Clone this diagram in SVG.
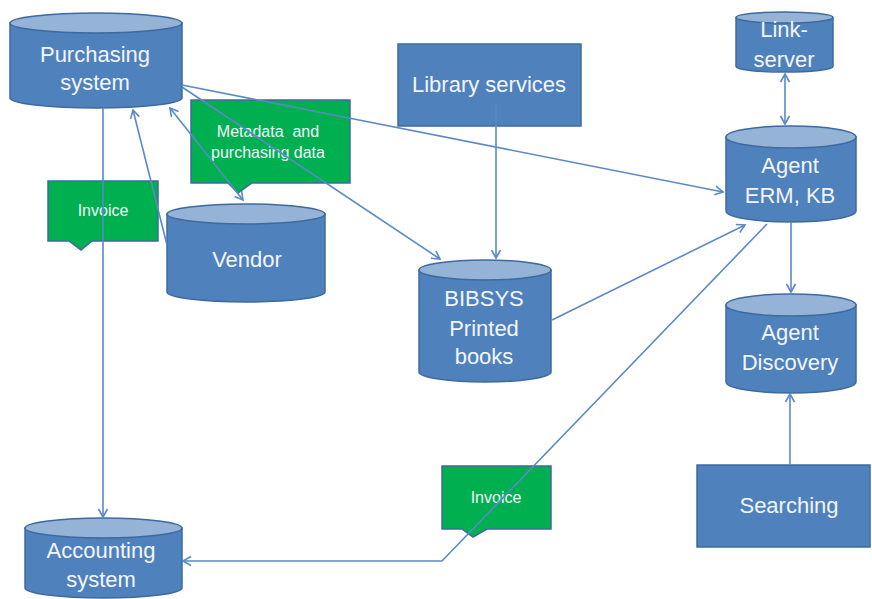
<svg xmlns="http://www.w3.org/2000/svg" width="872" height="599" viewBox="0 0 872 599">
<defs>
<style>
.body{fill:#4F81BD;stroke:#3E6A9E;stroke-width:1.5}
.top{fill:#95B3D7;stroke:#3E6A9E;stroke-width:1.5}
.rect{fill:#4F81BD;stroke:#3E6A9E;stroke-width:1.5}
.call{fill:#00B050;stroke:#3E6A9E;stroke-width:1.5}
.t{font-family:"Liberation Sans",Arial,sans-serif;font-size:22px;fill:#F2F6FC;text-anchor:middle}
.s{font-family:"Liberation Sans",Arial,sans-serif;font-size:16px;fill:#F2F6FC;text-anchor:middle}
.c{fill:none;stroke:#5A8AC6;stroke-width:1.6}
</style>
<marker id="a" markerUnits="userSpaceOnUse" markerWidth="12" markerHeight="12" refX="9" refY="5" orient="auto-start-reverse" viewBox="0 0 12 10">
<path d="M1,0.5 L9,5 L1,9.5" fill="none" stroke="#5A8AC6" stroke-width="1.6"/>
</marker>
</defs>
<rect width="872" height="599" fill="#FFFFFF"/>

<g id="purchasing">
<path class="body" d="M10,23 L10,98 A86,10 0 0 0 182,98 L182,23 Z"/>
<ellipse class="top" cx="96" cy="23" rx="86" ry="10"/>
<text class="t" x="95" y="62">Purchasing</text>
<text class="t" x="95" y="90">system</text>
</g>

<g id="vendor">
<path class="body" d="M167,214 L167,292 A79,10 0 0 0 325,292 L325,214 Z"/>
<ellipse class="top" cx="246" cy="214" rx="79" ry="10"/>
<text class="t" x="247" y="267">Vendor</text>
</g>

<g id="metadata-callout">
<path class="call" d="M191,100 L350,100 L350,183 L252,183 L238,193 L228,183 L191,183 Z"/>
<text class="s" x="268" y="137" xml:space="preserve">Metadata  and</text>
<text class="s" x="268" y="158">purchasing data</text>
</g>

<g id="invoice1">
<path class="call" d="M48,181 L158,181 L158,241 L92,241 L81,250 L69,241 L48,241 Z"/>
<text class="s" x="103" y="216">Invoice</text>
</g>

<g id="library">
<rect class="rect" x="398" y="44" width="183" height="82"/>
<text class="t" x="489" y="92">Library services</text>
</g>

<g id="bibsys">
<path class="body" d="M419,270 L419,372 A66,10 0 0 0 551,372 L551,270 Z"/>
<ellipse class="top" cx="485" cy="270" rx="66" ry="10"/>
<text class="t" x="484" y="306">BIBSYS</text>
<text class="t" x="484" y="336">Printed</text>
<text class="t" x="484" y="364">books</text>
</g>

<g id="linkserver">
<path class="body" d="M736,17.5 L736,66.5 A48.5,5.5 0 0 0 833,66.5 L833,17.5 Z"/>
<ellipse class="top" cx="784.5" cy="17.5" rx="48.5" ry="5.5"/>
<text class="t" x="784" y="37">Link-</text>
<text class="t" x="784" y="67">server</text>
</g>

<g id="agent-erm">
<path class="body" d="M726,137 L726,211 A65,11 0 0 0 856,211 L856,137 Z"/>
<ellipse class="top" cx="791" cy="137" rx="65" ry="11"/>
<text class="t" x="790" y="173">Agent</text>
<text class="t" x="790" y="203">ERM, KB</text>
</g>

<g id="agent-discovery">
<path class="body" d="M726,305 L726,382 A65,11 0 0 0 856,382 L856,305 Z"/>
<ellipse class="top" cx="791" cy="305" rx="65" ry="11"/>
<text class="t" x="790" y="340">Agent</text>
<text class="t" x="790" y="370">Discovery</text>
</g>

<g id="searching">
<rect class="rect" x="697" y="465" width="173" height="82"/>
<text class="t" x="789" y="513">Searching</text>
</g>

<g id="invoice2">
<path class="call" d="M442,466 L551,466 L551,529 L487,529 L473,537 L462,529 L442,529 Z"/>
<text class="s" x="496" y="503">Invoice</text>
</g>

<g id="accounting">
<path class="body" d="M25,528 L25,588 A78.5,10 0 0 0 182,588 L182,528 Z"/>
<ellipse class="top" cx="103.5" cy="528" rx="78.5" ry="10"/>
<text class="t" x="101" y="558">Accounting</text>
<text class="t" x="101" y="587">system</text>
</g>

<g id="connectors">
<path class="c" d="M103,108 L103,517" marker-end="url(#a)"/>
<path class="c" d="M167,245 L133,110" marker-end="url(#a)"/>
<path class="c" d="M170,108 L243,200" marker-start="url(#a)" marker-end="url(#a)"/>
<path class="c" d="M182,87 L440,259" marker-end="url(#a)"/>
<path class="c" d="M182,85 L723,192" marker-end="url(#a)"/>
<path class="c" d="M496,103 L496,258" marker-end="url(#a)"/>
<path class="c" d="M552,320 L745,225" marker-end="url(#a)"/>
<path class="c" d="M767,224 L442,561 L183,561" marker-end="url(#a)"/>
<path class="c" d="M791,222 L791,292" marker-end="url(#a)"/>
<path class="c" d="M785,74 L785,124" marker-start="url(#a)" marker-end="url(#a)"/>
<path class="c" d="M790,465 L790,394" marker-end="url(#a)"/>
</g>
</svg>
